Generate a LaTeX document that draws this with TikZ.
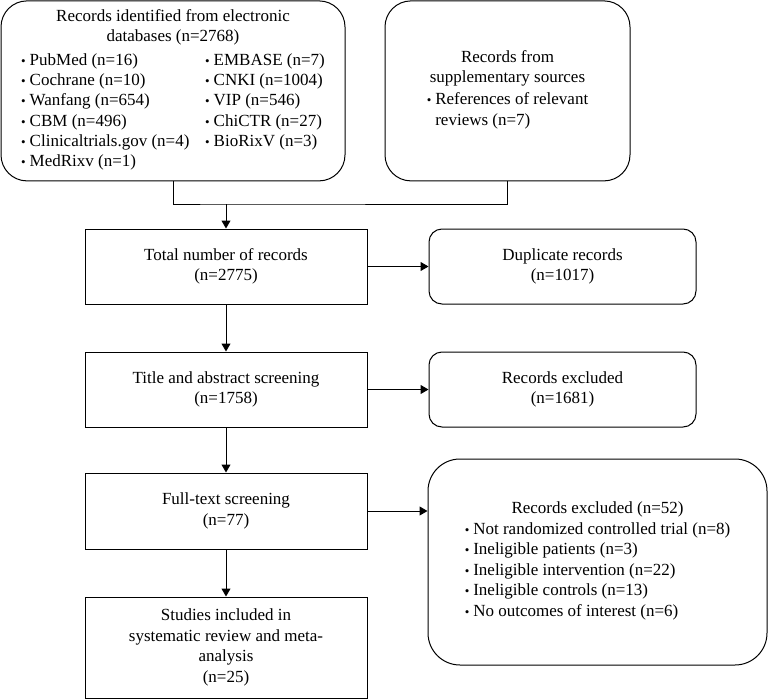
\documentclass[tikz,border=0pt]{standalone}
\usepackage{fontspec}
\setmainfont{Liberation Serif}
\usetikzlibrary{arrows.meta}
\newcommand\fs{\fontsize{17}{20.6}\selectfont}
\newcommand\bulg{{\fontsize{13}{13}\selectfont\textbullet}}
\newcommand\bul{\bulg\hspace{4pt}}
\begin{document}
\begin{tikzpicture}[x=1pt,y=-1pt,
  box/.style={draw, line width=1pt, inner sep=0pt, align=center, font=\fs},
  rbox/.style={box, rounded corners=#1},
  arr/.style={-{Triangle[length=8pt,width=9pt]}, line width=1pt},
  conn/.style={line width=1pt}]
\useasboundingbox (0,0) rectangle (769,699);

\node[rbox=26pt, minimum width=344pt, minimum height=180pt] (db) at (173,90.9) {%
Records identified from electronic\\databases (n=2768)\\[5pt]
\renewcommand\arraystretch{0.98}%
\begin{tabular}{@{}p{184pt}@{}l@{}}
\bul PubMed (n=16) & \bul EMBASE (n=7)\\
\bul Cochrane (n=10) & \bul CNKI (n=1004)\\
\bul Wanfang (n=654) & \bul VIP (n=546)\\
\bul CBM (n=496) & \bul ChiCTR (n=27)\\
\bul Clinicaltrials.gov (n=4) & \bul BioRixV (n=3)\\
\bul MedRixv (n=1) &
\end{tabular}};

\node[rbox=26pt, minimum width=245pt, minimum height=180pt] (sup) at (507.5,90.9) {%
Records from\\supplementary sources\\[3pt]
\begin{tabular}{@{}l@{\hspace{4pt}}l@{}}
\bulg & References of relevant\\
 & reviews (n=7)
\end{tabular}};

\node[box, minimum width=282pt, minimum height=75pt] (tot) at (226,266.5)
  {Total number of records\\(n=2775)};
\node[rbox=13pt, minimum width=267pt, minimum height=75pt] (dup) at (562.5,266.5)
  {Duplicate records\\(n=1017)};

\node[box, minimum width=282pt, minimum height=75pt] (tas) at (226,389.5)
  {Title and abstract screening\\(n=1758)};
\node[rbox=13pt, minimum width=267pt, minimum height=75pt] (ex1) at (562.5,389.5)
  {Records excluded\\(n=1681)};

\node[box, minimum width=282pt, minimum height=76pt] (ft) at (226,511)
  {Full-text screening\\(n=77)};
\node[rbox=32pt, minimum width=339pt, minimum height=206pt] (ex2) at (597.5,562) {%
Records excluded (n=52)\\[2pt]
\begin{tabular}{@{}l@{}}
\bul Not randomized controlled trial (n=8)\\
\bul Ineligible patients (n=3)\\
\bul Ineligible intervention (n=22)\\
\bul Ineligible controls (n=13)\\
\bul No outcomes of interest (n=6)
\end{tabular}};

\node[box, minimum width=282pt, minimum height=101pt] (inc) at (226,647.5)
  {Studies included in\\systematic review and meta-\\analysis\\(n=25)};

\coordinate (m) at (226,204);
\draw[conn] (db.south) |- (m) -| (sup.south);
\draw[arr] (m) -- (tot.north);
\draw[arr] (tot.east) -- (dup.west);
\draw[arr] (tot.south) -- (tas.north);
\draw[arr] (tas.east) -- (ex1.west);
\draw[arr] (tas.south) -- (ft.north);
\draw[arr] (ft.east) -- (ft.east -| ex2.west);
\draw[arr] (ft.south) -- (inc.north);
\end{tikzpicture}
\end{document}
